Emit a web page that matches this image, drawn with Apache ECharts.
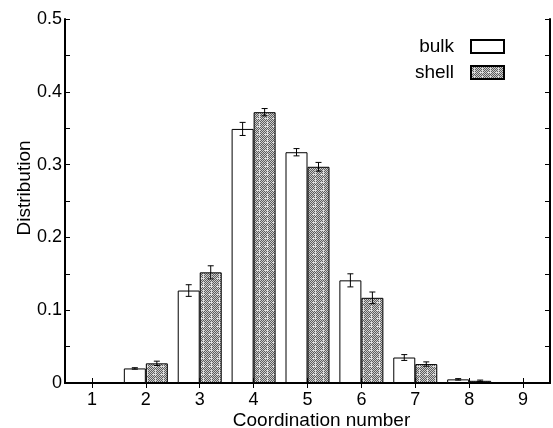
<!DOCTYPE html>
<html>
<head>
<meta charset="utf-8">
<style>
  html, body { margin: 0; padding: 0; background: #fff; }
  #chart { width: 553px; height: 428px; }
</style>
<script src="https://cdn.jsdelivr.net/npm/echarts@6/dist/echarts.min.js"></script>
</head>
<body>
<div id="chart"></div>
<script>
// Coordination-number distribution, bulk vs shell atoms
const categories = ['1', '2', '3', '4', '5', '6', '7', '8', '9'];
const bulkValues  = [0.001, 0.020, 0.127, 0.349, 0.317, 0.141, 0.035, 0.005, 0];
const shellValues = [0.001, 0.027, 0.152, 0.372, 0.297, 0.117, 0.026, 0.003, 0];
const bulkErrors  = [0, 0.001, 0.008, 0.009, 0.005, 0.009, 0.004, 0.001, 0];
const shellErrors = [0, 0.003, 0.009, 0.005, 0.006, 0.008, 0.003, 0.001, 0];
const yTicks = [0, 0.1, 0.2, 0.3, 0.4, 0.5];

const FONT = '"Liberation Sans", Arial, Helvetica, sans-serif';
const BAR_W = 22;

// dithered grey fill for the shell bars
function makeShellPattern() {
  const c = document.createElement('canvas');
  c.width = 8; c.height = 8;
  const ctx = c.getContext('2d');
  for (let y = 0; y < 8; y++) {
    for (let x = 0; x < 8; x++) {
      let col = (x + y) % 2 ? '#5e5e5e' : '#cdcdcd';
      if ((y === 6 && x < 5) || (x === 3 && y > 1)) col = '#dedede';
      ctx.fillStyle = col;
      ctx.fillRect(x, y, 1, 1);
    }
  }
  return c;
}
const shellFill = { image: makeShellPattern(), repeat: 'repeat' };

function errorData(vals, errs) {
  return vals.map((v, i) => [i, v, errs[i]]);
}

function errorRenderer(offset) {
  return function (params, api) {
    const i = api.value(0), v = api.value(1), e = api.value(2);
    if (!e) return null;
    const hi = api.coord([i, v + e]);
    const lo = api.coord([i, v - e]);
    const x = hi[0] + offset;
    const cap = 3;
    const style = { stroke: '#000', lineWidth: 1 };
    return {
      type: 'group',
      children: [
        { type: 'line', shape: { x1: x, y1: hi[1], x2: x, y2: lo[1] }, style },
        { type: 'line', shape: { x1: x - cap, y1: hi[1], x2: x + cap, y2: hi[1] }, style },
        { type: 'line', shape: { x1: x - cap, y1: lo[1], x2: x + cap, y2: lo[1] }, style }
      ]
    };
  };
}

const axisLine = { show: true, lineStyle: { color: '#000', width: 2 } };
const tickStyle = { color: '#000', width: 1 };

const chart = echarts.init(document.getElementById('chart'), null, { renderer: 'canvas' });
chart.setOption({
  backgroundColor: '#fff',
  animation: false,
  textStyle: { fontFamily: FONT, color: '#000' },
  grid: { left: 65, right: 3, top: 19, bottom: 45, containLabel: false, outerBoundsMode: 'none' },
  legend: {
    orient: 'vertical',
    align: 'right',
    right: 48,
    top: 37,
    padding: 0,
    itemWidth: 33,
    itemHeight: 13,
    itemGap: 7,
    icon: 'rect',
    textStyle: { fontFamily: FONT, fontSize: 19, color: '#000', padding: [0, 12, 0, 0] },
    data: ['bulk', 'shell']
  },
  xAxis: [
    {
      type: 'category',
      data: categories,
      position: 'bottom',
      name: 'Coordination number',
      nameLocation: 'middle',
      nameGap: 28,
      nameMoveOverlap: false,
      nameTextStyle: { fontFamily: FONT, fontSize: 19, color: '#000', padding: [0, 0, 0, 28] },
      axisLine,
      axisTick: { show: true, inside: true, length: 5, alignWithLabel: true, lineStyle: tickStyle },
      axisLabel: { fontFamily: FONT, fontSize: 18, color: '#000', margin: 8 },
      splitLine: { show: false }
    },
    {
      type: 'category',
      data: categories,
      position: 'top',
      axisLine,
      axisTick: { show: true, inside: true, length: 5, alignWithLabel: true, lineStyle: tickStyle },
      axisLabel: { show: false },
      splitLine: { show: false }
    }
  ],
  yAxis: [
    {
      type: 'value',
      min: 0,
      max: 0.5,
      interval: 0.1,
      position: 'left',
      name: 'Distribution',
      nameLocation: 'middle',
      nameGap: 31,
      nameMoveOverlap: false,
      nameTextStyle: { fontFamily: FONT, fontSize: 19, color: '#000', padding: [0, 0, 0, 26] },
      axisLine,
      axisTick: { show: true, inside: true, length: 5, lineStyle: tickStyle },
      minorTick: { show: true, splitNumber: 2, length: 5, lineStyle: tickStyle },
      axisLabel: {
        fontFamily: FONT, fontSize: 18, color: '#000', margin: 3,
        formatter: v => {
          const t = yTicks.find(k => Math.abs(k - v) < 1e-9);
          return t === undefined ? '' : String(t);
        }
      },
      splitLine: { show: false }
    },
    {
      type: 'value',
      min: 0,
      max: 0.5,
      interval: 0.1,
      position: 'right',
      axisLine,
      axisTick: { show: true, inside: true, length: 5, lineStyle: tickStyle },
      minorTick: { show: true, splitNumber: 2, length: 5, lineStyle: tickStyle },
      axisLabel: { show: false },
      splitLine: { show: false }
    }
  ],
  series: [
    {
      name: 'bulk',
      type: 'bar',
      xAxisIndex: 0,
      yAxisIndex: 0,
      data: bulkValues,
      barWidth: BAR_W,
      barGap: '0%',
      itemStyle: { color: '#fff', borderColor: '#000', borderWidth: 1 }
    },
    {
      name: 'shell',
      type: 'bar',
      xAxisIndex: 0,
      yAxisIndex: 0,
      data: shellValues,
      barWidth: BAR_W,
      barGap: '0%',
      itemStyle: { color: shellFill, borderColor: '#000', borderWidth: 1 }
    },
    {
      type: 'custom',
      xAxisIndex: 0,
      yAxisIndex: 0,
      renderItem: errorRenderer(-BAR_W / 2),
      data: errorData(bulkValues, bulkErrors),
      encode: { x: 0, y: 1 },
      z: 5,
      silent: true
    },
    {
      type: 'custom',
      xAxisIndex: 0,
      yAxisIndex: 0,
      renderItem: errorRenderer(BAR_W / 2),
      data: errorData(shellValues, shellErrors),
      encode: { x: 0, y: 1 },
      z: 5,
      silent: true
    }
  ]
});
</script>
</body>
</html>
